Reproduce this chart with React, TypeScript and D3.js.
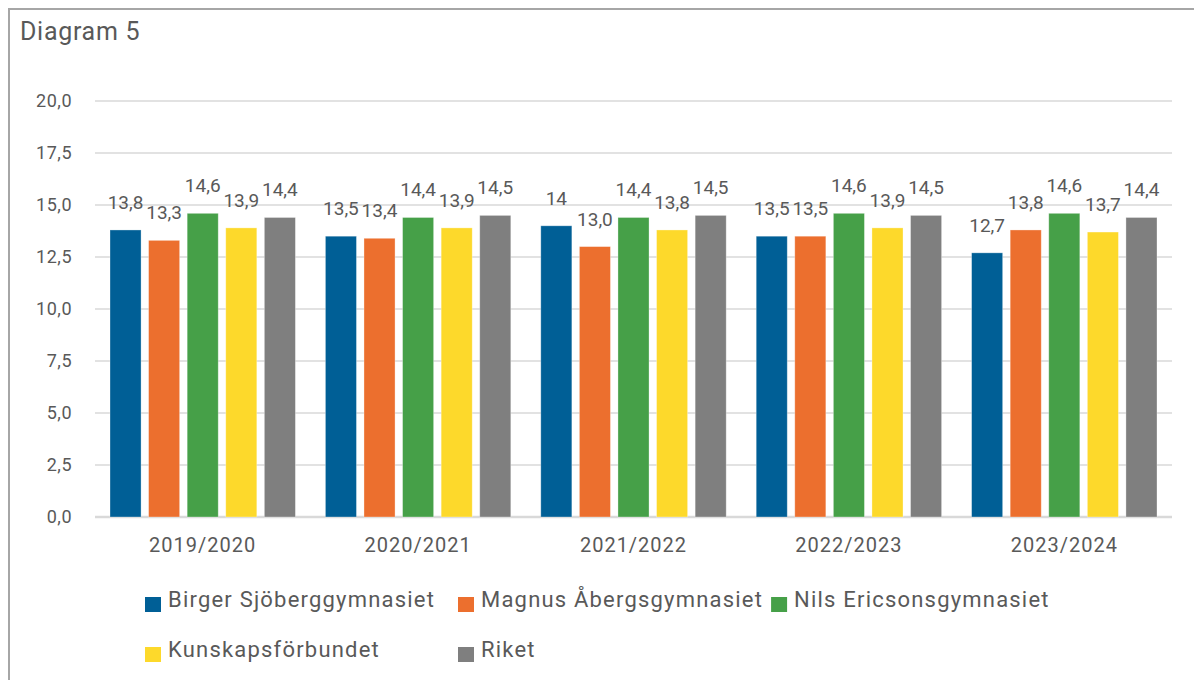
import React, { useEffect, useRef } from "react";
import * as d3 from "d3";

const categories = ["2019/2020", "2020/2021", "2021/2022", "2022/2023", "2023/2024"];
const seriesNames = [
  "Birger Sjöberggymnasiet",
  "Magnus Åbergsgymnasiet",
  "Nils Ericsonsgymnasiet",
  "Kunskapsförbundet",
  "Riket",
];
const birger = [13.8, 13.5, 14, 13.5, 12.7];
const magnus = [13.3, 13.4, 13.0, 13.5, 13.8];
const nils = [14.6, 14.4, 14.4, 14.6, 14.6];
const kunskap = [13.9, 13.9, 13.8, 13.9, 13.7];
const riket = [14.4, 14.5, 14.5, 14.5, 14.4];
// etiketter som visas utan decimal i originalet (serie, kategori)
const integerLabels = [[0, 2]];
const yTicks = [0, 2.5, 5, 7.5, 10, 12.5, 15, 17.5, 20];
const colors = ["#005f96", "#ec6f2e", "#46a048", "#fdd92b", "#7f7f7f"];

const W = 1194;
const H = 680;
const FONT = "Roboto, 'Liberation Sans', sans-serif";
const TEXT = "#595959";

const App: React.FC = () => {
  const svgRef = useRef<SVGSVGElement>(null);

  useEffect(() => {
    document.body.style.margin = "0";
    const svg = d3.select(svgRef.current);
    svg.html("");

    const values = [birger, magnus, nils, kunskap, riket];
    const plot = { left: 95, right: 1172, top: 101, bottom: 517 };

    // ram
    svg
      .append("rect")
      .attr("x", 9)
      .attr("y", 9)
      .attr("width", W + 20)
      .attr("height", H + 20)
      .attr("fill", "#fff")
      .attr("stroke", "#a6a6a6")
      .attr("stroke-width", 2);

    svg
      .append("text")
      .attr("x", 20)
      .attr("y", 40)
      .attr("font-family", FONT)
      .attr("font-size", 25)
      .attr("letter-spacing", 0.7)
      .attr("fill", TEXT)
      .text("Diagram 5");

    const y = d3.scaleLinear().domain([0, 20]).range([plot.bottom, plot.top]);
    const x0 = d3
      .scaleBand<string>()
      .domain(categories)
      .range([plot.left, plot.right])
      .paddingInner(0);
    const x1 = d3
      .scaleBand<number>()
      .domain(d3.range(seriesNames.length))
      .range([15, x0.bandwidth() - 15])
      .paddingInner(0.195);

    const fmt = (v: number) => d3.format(".1f")(v).replace(".", ",");
    const isInt = (s: number, c: number) =>
      integerLabels.some(([a, b]) => a === s && b === c);

    // rutnät
    svg
      .append("g")
      .selectAll("line")
      .data(yTicks)
      .join("line")
      .attr("x1", plot.left)
      .attr("x2", plot.right)
      .attr("y1", (d) => y(d))
      .attr("y2", (d) => y(d))
      .attr("stroke", "#d9d9d9")
      .attr("stroke-width", (d) => (d === 0 ? 2.5 : 1.5));

    svg
      .append("g")
      .selectAll("text")
      .data(yTicks)
      .join("text")
      .attr("x", 72)
      .attr("y", (d) => y(d))
      .attr("dy", "0.36em")
      .attr("text-anchor", "end")
      .attr("font-family", FONT)
      .attr("font-size", 18)
      .attr("letter-spacing", 0.5)
      .attr("fill", TEXT)
      .text((d) => fmt(d));

    // staplar
    const groups = svg
      .append("g")
      .selectAll("g")
      .data(categories)
      .join("g")
      .attr("transform", (d) => `translate(${x0(d)},0)`);

    groups
      .selectAll("rect")
      .data((_, c) => values.map((s, i) => ({ s: i, c, v: s[c] })))
      .join("rect")
      .attr("x", (d) => x1(d.s)!)
      .attr("width", x1.bandwidth())
      .attr("y", (d) => y(d.v))
      .attr("height", (d) => y(0) - y(d.v))
      .attr("fill", (d) => colors[d.s])
      .attr("stroke", "#ffffff")
      .attr("stroke-opacity", 0.4)
      .attr("stroke-width", 0.8);

    groups
      .selectAll("text")
      .data((_, c) => values.map((s, i) => ({ s: i, c, v: s[c] })))
      .join("text")
      .attr("x", (d) => x1(d.s)! + x1.bandwidth() / 2)
      .attr("y", (d) => y(d.v) - 21)
      .attr("text-anchor", "middle")
      .attr("font-family", FONT)
      .attr("font-size", 19)
      .attr("fill", TEXT)
      .text((d) => (isInt(d.s, d.c) ? d3.format("d")(d.v) : fmt(d.v)));

    // kategorietiketter
    svg
      .append("g")
      .selectAll("text")
      .data(categories)
      .join("text")
      .attr("x", (d) => x0(d)! + x0.bandwidth() / 2)
      .attr("y", 552)
      .attr("text-anchor", "middle")
      .attr("font-family", FONT)
      .attr("font-size", 20)
      .attr("letter-spacing", 1)
      .attr("fill", TEXT)
      .text((d) => d);

    // legend: två kolumner, tredje posten följer texten
    const rows = [607, 657];
    const cols = [145, 458];
    const legend = svg.append("g");
    let nextX = 0;
    seriesNames.forEach((name, i) => {
      const row = i < 3 ? 0 : 1;
      const idx = i < 3 ? i : i - 3;
      const lx = idx < 2 ? cols[idx] : nextX + 8;
      const item = legend.append("g").attr("transform", `translate(${lx},${rows[row]})`);
      item
        .append("rect")
        .attr("x", 0)
        .attr("y", -10)
        .attr("width", 16)
        .attr("height", 15)
        .attr("fill", colors[i]);
      const t = item
        .append("text")
        .attr("x", 23)
        .attr("y", 0)
        .attr("font-family", FONT)
        .attr("font-size", 22)
        .attr("letter-spacing", 1.2)
        .attr("fill", TEXT)
        .text(name);
      nextX = lx + 23 + (t.node() as SVGTextElement).getComputedTextLength();
    });
  }, []);

  return <svg ref={svgRef} width={W} height={H} style={{ display: "block" }} />;
};

export default App;
